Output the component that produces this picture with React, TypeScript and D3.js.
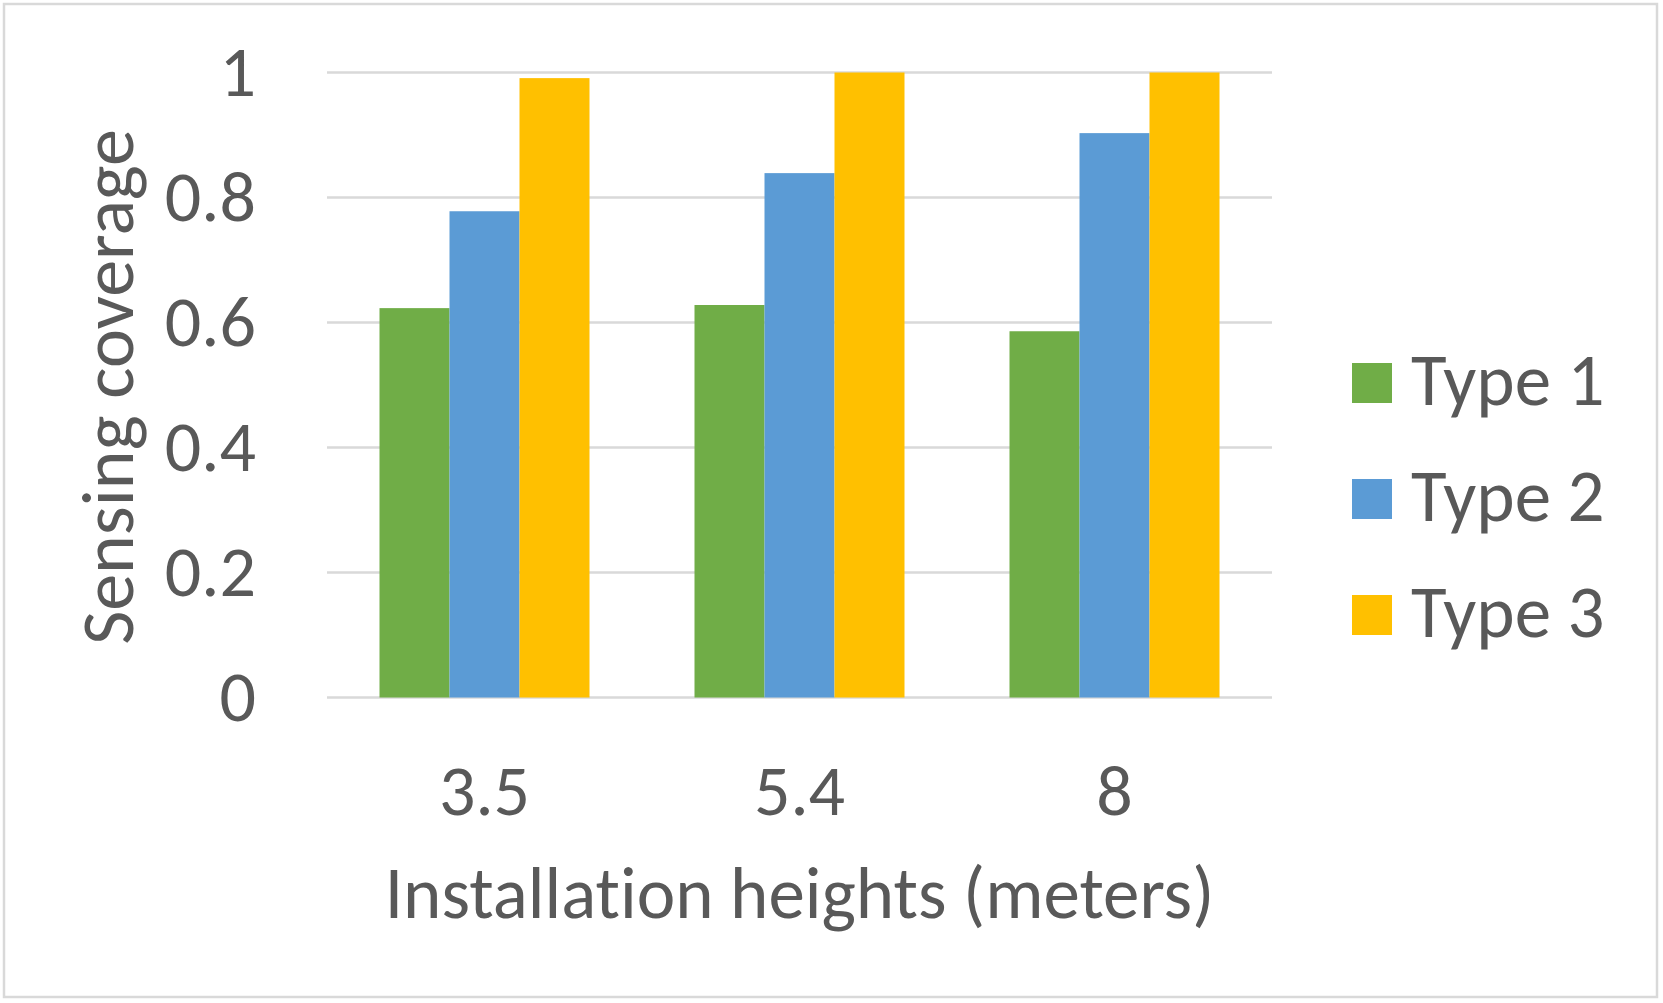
import React, { useEffect, useRef } from 'react';
import * as d3 from 'd3';

const categories = ['3.5', '5.4', '8'];
const seriesNames = ['Type 1', 'Type 2', 'Type 3'];
const type1Values = [0.623, 0.628, 0.586];
const type2Values = [0.778, 0.839, 0.903];
const type3Values = [0.991, 1.0, 1.0];
const yTicks = [0, 0.2, 0.4, 0.6, 0.8, 1];
const seriesColors = ['#70ad47', '#5b9bd5', '#ffc000'];

const WIDTH = 1663;
const HEIGHT = 1003;
const FONT = 'Carlito, Calibri, Lato, sans-serif';
const TEXT_COLOR = '#595959';
const GRID_COLOR = '#d9d9d9';

const App: React.FC = () => {
  const svgRef = useRef<SVGSVGElement>(null);

  useEffect(() => {
    document.body.style.margin = '0';
    if (!svgRef.current) return;

    const svg = d3.select(svgRef.current);
    svg.selectAll('*').remove();
    svg.style('font-variant-ligatures', 'none');

    const plot = { left: 327, right: 1272, top: 72.5, bottom: 697.5 };
    const values = [type1Values, type2Values, type3Values];

    // chart frame
    svg.append('rect')
      .attr('x', 4).attr('y', 4)
      .attr('width', WIDTH - 10).attr('height', HEIGHT - 10)
      .attr('fill', 'white')
      .attr('stroke', GRID_COLOR)
      .attr('stroke-width', 2.5);

    const x = d3.scaleBand<string>()
      .domain(categories)
      .range([plot.left, plot.right])
      .paddingInner(0)
      .paddingOuter(0);

    const xInner = d3.scaleBand<string>()
      .domain(seriesNames)
      .range([0, x.bandwidth()])
      .paddingInner(0)
      .paddingOuter(0.75);

    const y = d3.scaleLinear()
      .domain([0, 1])
      .range([plot.bottom, plot.top]);

    // gridlines
    svg.append('g')
      .selectAll('line')
      .data(yTicks)
      .enter().append('line')
      .attr('x1', plot.left)
      .attr('x2', plot.right)
      .attr('y1', d => y(d))
      .attr('y2', d => y(d))
      .attr('stroke', GRID_COLOR)
      .attr('stroke-width', 2.5);

    // y tick labels
    svg.append('g')
      .selectAll('text')
      .data(yTicks)
      .enter().append('text')
      .attr('x', 256)
      .attr('y', d => y(d))
      .attr('dy', '0.33em')
      .attr('text-anchor', 'end')
      .style('font-family', FONT)
      .style('font-size', '72px')
      .style('fill', TEXT_COLOR)
      .text(d => d3.format('~g')(d));

    // bars
    const groups = svg.append('g')
      .selectAll('g')
      .data(categories)
      .enter().append('g')
      .attr('transform', d => `translate(${x(d)},0)`);

    groups.selectAll('rect')
      .data((_, ci) => seriesNames.map((name, si) => ({ name, si, value: values[si][ci] })))
      .enter().append('rect')
      .attr('x', d => xInner(d.name) as number)
      .attr('width', xInner.bandwidth())
      .attr('y', d => y(d.value))
      .attr('height', d => y(0) - y(d.value))
      .attr('fill', d => seriesColors[d.si]);

    // x tick labels
    svg.append('g')
      .selectAll('text')
      .data(categories)
      .enter().append('text')
      .attr('x', d => (x(d) as number) + x.bandwidth() / 2)
      .attr('y', 815)
      .attr('text-anchor', 'middle')
      .style('font-family', FONT)
      .style('font-size', '72px')
      .style('fill', TEXT_COLOR)
      .text(d => d);

    // axis titles
    svg.append('text')
      .attr('x', (plot.left + plot.right) / 2)
      .attr('y', 918)
      .attr('text-anchor', 'middle')
      .style('font-family', FONT)
      .style('font-size', '73px')
      .style('fill', TEXT_COLOR)
      .text('Installation heights (meters)');

    svg.append('text')
      .attr('transform', `translate(133, ${(plot.top + plot.bottom) / 2 + 2}) rotate(-90)`)
      .attr('text-anchor', 'middle')
      .style('font-family', FONT)
      .style('font-size', '74px')
      .style('fill', TEXT_COLOR)
      .text('Sensing coverage');

    // legend
    const legend = svg.append('g')
      .selectAll('g')
      .data(seriesNames)
      .enter().append('g')
      .attr('transform', (_, i) => `translate(1352, ${363 + i * 116})`);

    legend.append('rect')
      .attr('width', 40)
      .attr('height', 40)
      .attr('fill', (_, i) => seriesColors[i]);

    legend.append('text')
      .attr('x', 59)
      .attr('y', 42)
      .style('font-family', FONT)
      .style('font-size', '73px')
      .style('fill', TEXT_COLOR)
      .text(d => d);
  }, []);

  return <svg ref={svgRef} width={WIDTH} height={HEIGHT} style={{ display: 'block' }} />;
};

export default App;
